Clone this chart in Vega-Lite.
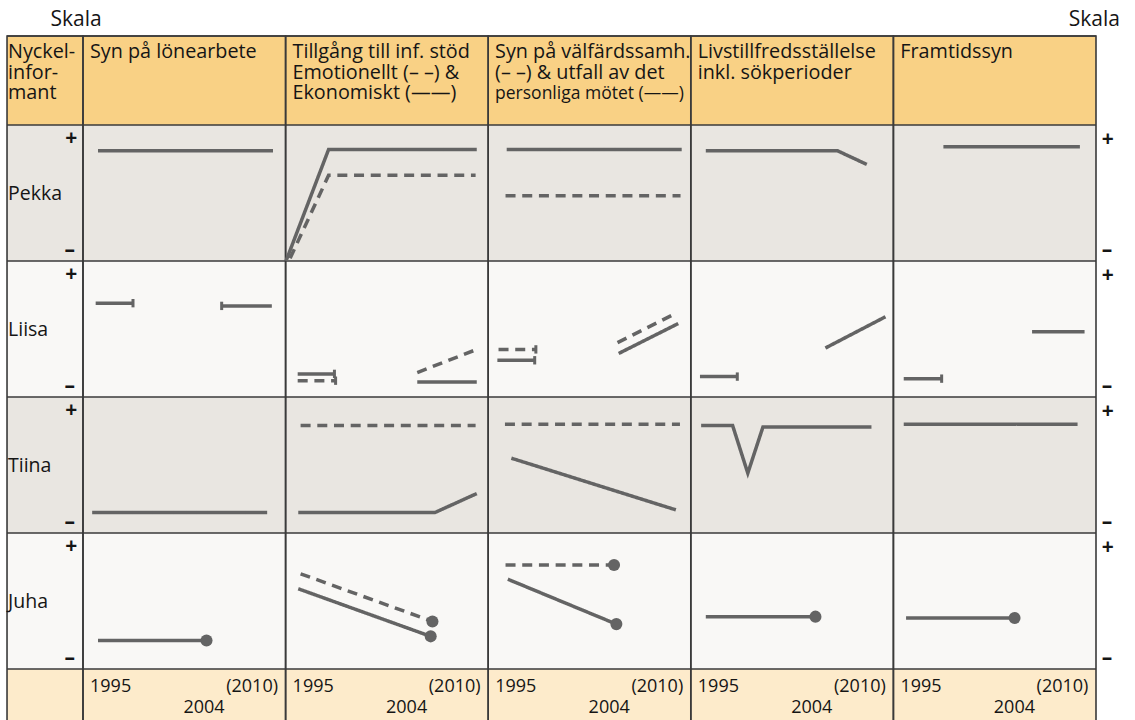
{
  "$schema": "https://vega.github.io/schema/vega-lite/v6.json",
  "width": 1135,
  "height": 720,
  "padding": 0,
  "autosize": {"type": "none"},
  "background": "white",
  "config": {"view": {"stroke": null}, "font": "Open Sans", "text": {"font": "Open Sans", "color": "#151515"}},
  "datasets": {
    "rader": [
      {"rad": "rubrik"}, {"rad": "Pekka"}, {"rad": "Liisa"}, {"rad": "Tiina"}, {"rad": "Juha"}, {"rad": "fot"}
    ],
    "kolumner": [
      {"kol": "namn"}, {"kol": "lönearbete"}, {"kol": "stöd"}, {"kol": "välfärd"}, {"kol": "livstillfredsställelse"}, {"kol": "framtid"}
    ],
    "rubriker": [
      {"kol": "namn", "nr": 1, "text": "Nyckel-"},
      {"kol": "namn", "nr": 2, "text": "infor-"},
      {"kol": "namn", "nr": 3, "text": "mant"},
      {"kol": "lönearbete", "nr": 1, "text": "Syn på lönearbete"},
      {"kol": "stöd", "nr": 1, "text": "Tillgång till inf. stöd"},
      {"kol": "stöd", "nr": 2, "text": "Emotionellt (– –) &"},
      {"kol": "stöd", "nr": 3, "text": "Ekonomiskt (——)"},
      {"kol": "välfärd", "nr": 1, "text": "Syn på välfärdssamh."},
      {"kol": "välfärd", "nr": 2, "text": "(– –) & utfall av det"},
      {"kol": "välfärd", "nr": 3, "text": "personliga mötet (——)"},
      {"kol": "livstillfredsställelse", "nr": 1, "text": "Livstillfredsställelse"},
      {"kol": "livstillfredsställelse", "nr": 2, "text": "inkl. sökperioder"},
      {"kol": "framtid", "nr": 1, "text": "Framtidssyn"}
    ],
    "fot": [
      {"a": "lönearbete", "år": 1995, "etikett": "1995"}, {"a": "lönearbete", "år": 2010, "etikett": "(2010)"}, {"a": "lönearbete", "år": 2004, "etikett": "2004"},
      {"a": "stöd", "år": 1995, "etikett": "1995"}, {"a": "stöd", "år": 2010, "etikett": "(2010)"}, {"a": "stöd", "år": 2004, "etikett": "2004"},
      {"a": "välfärd", "år": 1995, "etikett": "1995"}, {"a": "välfärd", "år": 2010, "etikett": "(2010)"}, {"a": "välfärd", "år": 2004, "etikett": "2004"},
      {"a": "livstillfredsställelse", "år": 1995, "etikett": "1995"}, {"a": "livstillfredsställelse", "år": 2010, "etikett": "(2010)"}, {"a": "livstillfredsställelse", "år": 2004, "etikett": "2004"},
      {"a": "framtid", "år": 1995, "etikett": "1995"}, {"a": "framtid", "år": 2010, "etikett": "(2010)"}, {"a": "framtid", "år": 2004, "etikett": "2004"}
    ],
    "linjer": [
      {"p": "Pekka", "a": "lönearbete", "m": "nivå", "s": 1, "år": 1995, "v": 0.81},
      {"p": "Pekka", "a": "lönearbete", "m": "nivå", "s": 1, "år": 2010, "v": 0.81},
      {"p": "Pekka", "a": "stöd", "m": "ekonomiskt", "s": 1, "år": 1993.75, "v": 0.0},
      {"p": "Pekka", "a": "stöd", "m": "ekonomiskt", "s": 1, "år": 1997.4, "v": 0.82},
      {"p": "Pekka", "a": "stöd", "m": "ekonomiskt", "s": 1, "år": 2010.1, "v": 0.82},
      {"p": "Pekka", "a": "stöd", "m": "emotionellt", "s": 1, "år": 1994.1, "v": 0.02},
      {"p": "Pekka", "a": "stöd", "m": "emotionellt", "s": 1, "år": 1997.4, "v": 0.63},
      {"p": "Pekka", "a": "stöd", "m": "emotionellt", "s": 1, "år": 2010, "v": 0.63},
      {"p": "Pekka", "a": "välfärd", "m": "utfall", "s": 1, "år": 1995.3, "v": 0.82},
      {"p": "Pekka", "a": "välfärd", "m": "utfall", "s": 1, "år": 2010.3, "v": 0.82},
      {"p": "Pekka", "a": "välfärd", "m": "välfärdssyn", "s": 1, "år": 1995.2, "v": 0.48},
      {"p": "Pekka", "a": "välfärd", "m": "välfärdssyn", "s": 1, "år": 2010.2, "v": 0.48},
      {"p": "Pekka", "a": "livstillfredsställelse", "m": "nivå", "s": 1, "år": 1995, "v": 0.81},
      {"p": "Pekka", "a": "livstillfredsställelse", "m": "nivå", "s": 1, "år": 2006.3, "v": 0.81},
      {"p": "Pekka", "a": "livstillfredsställelse", "m": "nivå", "s": 1, "år": 2008.8, "v": 0.71},
      {"p": "Pekka", "a": "framtid", "m": "nivå", "s": 1, "år": 1998, "v": 0.84},
      {"p": "Pekka", "a": "framtid", "m": "nivå", "s": 1, "år": 2009.7, "v": 0.84},

      {"p": "Liisa", "a": "lönearbete", "m": "nivå", "s": 1, "år": 1994.8, "v": 0.69},
      {"p": "Liisa", "a": "lönearbete", "m": "nivå", "s": 1, "år": 1998, "v": 0.69, "slut": "streck"},
      {"p": "Liisa", "a": "lönearbete", "m": "nivå", "s": 2, "år": 2005.6, "v": 0.67, "slut": "streck"},
      {"p": "Liisa", "a": "lönearbete", "m": "nivå", "s": 2, "år": 2009.9, "v": 0.67},
      {"p": "Liisa", "a": "stöd", "m": "ekonomiskt", "s": 1, "år": 1994.75, "v": 0.17},
      {"p": "Liisa", "a": "stöd", "m": "ekonomiskt", "s": 1, "år": 1997.9, "v": 0.17, "slut": "streck"},
      {"p": "Liisa", "a": "stöd", "m": "ekonomiskt", "s": 2, "år": 2005, "v": 0.11},
      {"p": "Liisa", "a": "stöd", "m": "ekonomiskt", "s": 2, "år": 2010.1, "v": 0.11},
      {"p": "Liisa", "a": "stöd", "m": "emotionellt", "s": 1, "år": 1994.75, "v": 0.12},
      {"p": "Liisa", "a": "stöd", "m": "emotionellt", "s": 1, "år": 1998, "v": 0.12, "slut": "streck"},
      {"p": "Liisa", "a": "stöd", "m": "emotionellt", "s": 2, "år": 2005, "v": 0.18},
      {"p": "Liisa", "a": "stöd", "m": "emotionellt", "s": 2, "år": 2010.1, "v": 0.35},
      {"p": "Liisa", "a": "välfärd", "m": "välfärdssyn", "s": 1, "år": 1994.6, "v": 0.35},
      {"p": "Liisa", "a": "välfärd", "m": "välfärdssyn", "s": 1, "år": 1997.8, "v": 0.35, "slut": "streck"},
      {"p": "Liisa", "a": "välfärd", "m": "välfärdssyn", "s": 2, "år": 2004.8, "v": 0.40},
      {"p": "Liisa", "a": "välfärd", "m": "välfärdssyn", "s": 2, "år": 2009.9, "v": 0.62},
      {"p": "Liisa", "a": "välfärd", "m": "utfall", "s": 1, "år": 1994.5, "v": 0.27},
      {"p": "Liisa", "a": "välfärd", "m": "utfall", "s": 1, "år": 1997.7, "v": 0.27, "slut": "streck"},
      {"p": "Liisa", "a": "välfärd", "m": "utfall", "s": 2, "år": 2004.9, "v": 0.32},
      {"p": "Liisa", "a": "välfärd", "m": "utfall", "s": 2, "år": 2010, "v": 0.54},
      {"p": "Liisa", "a": "livstillfredsställelse", "m": "nivå", "s": 1, "år": 1994.5, "v": 0.15},
      {"p": "Liisa", "a": "livstillfredsställelse", "m": "nivå", "s": 1, "år": 1997.7, "v": 0.15, "slut": "streck"},
      {"p": "Liisa", "a": "livstillfredsställelse", "m": "nivå", "s": 2, "år": 2005.25, "v": 0.36},
      {"p": "Liisa", "a": "livstillfredsställelse", "m": "nivå", "s": 2, "år": 2010.4, "v": 0.59},
      {"p": "Liisa", "a": "framtid", "m": "nivå", "s": 1, "år": 1994.6, "v": 0.135},
      {"p": "Liisa", "a": "framtid", "m": "nivå", "s": 1, "år": 1997.85, "v": 0.135, "slut": "streck"},
      {"p": "Liisa", "a": "framtid", "m": "nivå", "s": 2, "år": 2005.6, "v": 0.48},
      {"p": "Liisa", "a": "framtid", "m": "nivå", "s": 2, "år": 2010.1, "v": 0.48},

      {"p": "Tiina", "a": "lönearbete", "m": "nivå", "s": 1, "år": 1994.5, "v": 0.15},
      {"p": "Tiina", "a": "lönearbete", "m": "nivå", "s": 1, "år": 2009.5, "v": 0.15},
      {"p": "Tiina", "a": "stöd", "m": "emotionellt", "s": 1, "år": 1995, "v": 0.79},
      {"p": "Tiina", "a": "stöd", "m": "emotionellt", "s": 1, "år": 2010, "v": 0.79},
      {"p": "Tiina", "a": "stöd", "m": "ekonomiskt", "s": 1, "år": 1994.8, "v": 0.15},
      {"p": "Tiina", "a": "stöd", "m": "ekonomiskt", "s": 1, "år": 2006.5, "v": 0.15},
      {"p": "Tiina", "a": "stöd", "m": "ekonomiskt", "s": 1, "år": 2010.1, "v": 0.29},
      {"p": "Tiina", "a": "välfärd", "m": "välfärdssyn", "s": 1, "år": 1995.15, "v": 0.80},
      {"p": "Tiina", "a": "välfärd", "m": "välfärdssyn", "s": 1, "år": 2010.15, "v": 0.80},
      {"p": "Tiina", "a": "välfärd", "m": "utfall", "s": 1, "år": 1995.7, "v": 0.55},
      {"p": "Tiina", "a": "välfärd", "m": "utfall", "s": 1, "år": 2009.8, "v": 0.17},
      {"p": "Tiina", "a": "livstillfredsställelse", "m": "nivå", "s": 1, "år": 1994.6, "v": 0.79},
      {"p": "Tiina", "a": "livstillfredsställelse", "m": "nivå", "s": 1, "år": 1997.3, "v": 0.79},
      {"p": "Tiina", "a": "livstillfredsställelse", "m": "nivå", "s": 1, "år": 1998.6, "v": 0.44},
      {"p": "Tiina", "a": "livstillfredsställelse", "m": "nivå", "s": 1, "år": 1999.9, "v": 0.78},
      {"p": "Tiina", "a": "livstillfredsställelse", "m": "nivå", "s": 1, "år": 2009.2, "v": 0.78},
      {"p": "Tiina", "a": "framtid", "m": "nivå", "s": 1, "år": 1994.6, "v": 0.80},
      {"p": "Tiina", "a": "framtid", "m": "nivå", "s": 1, "år": 2009.5, "v": 0.80},

      {"p": "Juha", "a": "lönearbete", "m": "nivå", "s": 1, "år": 1995, "v": 0.21},
      {"p": "Juha", "a": "lönearbete", "m": "nivå", "s": 1, "år": 2004.3, "v": 0.21, "slut": "punkt"},
      {"p": "Juha", "a": "stöd", "m": "emotionellt", "s": 1, "år": 1995, "v": 0.70},
      {"p": "Juha", "a": "stöd", "m": "emotionellt", "s": 1, "år": 2006.3, "v": 0.35, "slut": "punkt"},
      {"p": "Juha", "a": "stöd", "m": "ekonomiskt", "s": 1, "år": 1994.8, "v": 0.59},
      {"p": "Juha", "a": "stöd", "m": "ekonomiskt", "s": 1, "år": 2006.15, "v": 0.24, "slut": "punkt"},
      {"p": "Juha", "a": "välfärd", "m": "välfärdssyn", "s": 1, "år": 1995.2, "v": 0.765},
      {"p": "Juha", "a": "välfärd", "m": "välfärdssyn", "s": 1, "år": 2004.5, "v": 0.765, "slut": "punkt"},
      {"p": "Juha", "a": "välfärd", "m": "utfall", "s": 1, "år": 1995.4, "v": 0.66},
      {"p": "Juha", "a": "välfärd", "m": "utfall", "s": 1, "år": 2004.7, "v": 0.33, "slut": "punkt"},
      {"p": "Juha", "a": "livstillfredsställelse", "m": "nivå", "s": 1, "år": 1995, "v": 0.385},
      {"p": "Juha", "a": "livstillfredsställelse", "m": "nivå", "s": 1, "år": 2004.4, "v": 0.385, "slut": "punkt"},
      {"p": "Juha", "a": "framtid", "m": "nivå", "s": 1, "år": 1994.8, "v": 0.375},
      {"p": "Juha", "a": "framtid", "m": "nivå", "s": 1, "år": 2004.1, "v": 0.375, "slut": "punkt"}
    ]
  },
  "encoding": {
    "x": {"field": "gx", "type": "quantitative", "scale": {"domain": [-0.40967, 5.1925], "nice": false, "zero": false}, "axis": null},
    "y": {"field": "gy", "type": "quantitative", "scale": {"domain": [-0.91912, 4.375], "nice": false, "zero": false, "reverse": true}, "axis": null}
  },
  "layer": [
    {
      "data": {"name": "rader"},
      "transform": [
        {"calculate": "indexof(['rubrik','Pekka','Liisa','Tiina','Juha','fot'], datum.rad) - 1", "as": "ri"},
        {"calculate": "datum.ri < 0 ? -0.6544 : datum.ri", "as": "gy"},
        {"calculate": "datum.ri < 0 ? 0 : (datum.ri > 3 ? 4.4 : datum.ri + 1)", "as": "gy2"},
        {"calculate": "-0.375", "as": "gx"},
        {"calculate": "5", "as": "gx2"}
      ],
      "mark": {"type": "rect"},
      "encoding": {
        "x2": {"field": "gx2"},
        "y2": {"field": "gy2"},
        "fill": {"field": "rad", "type": "nominal", "legend": null,
          "scale": {"domain": ["rubrik", "Pekka", "Liisa", "Tiina", "Juha", "fot"],
                    "range": ["#f9d185", "#e9e6e1", "#f9f8f6", "#e9e6e1", "#f9f8f6", "#fdebcb"]}}
      }
    },
    {
      "data": {"name": "rader"},
      "transform": [
        {"calculate": "indexof(['rubrik','Pekka','Liisa','Tiina','Juha','fot'], datum.rad) - 1", "as": "ri"},
        {"calculate": "datum.ri < 0 ? -0.6544 : datum.ri", "as": "gy"},
        {"calculate": "-0.375", "as": "gx"},
        {"calculate": "5", "as": "gx2"}
      ],
      "mark": {"type": "rule", "color": "#3a3a3a", "strokeWidth": 1.6},
      "encoding": {"x2": {"field": "gx2"}}
    },
    {
      "data": {"name": "kolumner"},
      "transform": [
        {"calculate": "indexof(['namn','lönearbete','stöd','välfärd','livstillfredsställelse','framtid'], datum.kol)", "as": "ci"},
        {"calculate": "datum.ci == 0 ? -0.375 : datum.ci - 1", "as": "gx"},
        {"calculate": "datum.ci == 0 ? 0 : datum.ci", "as": "gx2"},
        {"calculate": "-0.6544", "as": "gy"},
        {"calculate": "4.45", "as": "gy2"}
      ],
      "mark": {"type": "rect", "fillOpacity": 0, "stroke": "#3a3a3a", "strokeWidth": 1.6},
      "encoding": {"x2": {"field": "gx2"}, "y2": {"field": "gy2"}}
    },
    {
      "data": {"name": "rubriker"},
      "transform": [
        {"filter": "!(datum.kol == 'välfärd' && datum.nr == 3)"},
        {"calculate": "indexof(['namn','lönearbete','stöd','välfärd','livstillfredsställelse','framtid'], datum.kol)", "as": "ci"},
        {"calculate": "datum.ci == 0 ? -0.37 : datum.ci - 0.966", "as": "gx"},
        {"calculate": "-0.4904 + (datum.nr - 1) * 0.15", "as": "gy"}
      ],
      "mark": {"type": "text", "align": "left", "baseline": "alphabetic", "fontSize": 19.8},
      "encoding": {"text": {"field": "text"}}
    },
    {
      "data": {"name": "rubriker"},
      "transform": [
        {"filter": "datum.kol == 'välfärd' && datum.nr == 3"},
        {"calculate": "indexof(['namn','lönearbete','stöd','välfärd','livstillfredsställelse','framtid'], datum.kol)", "as": "ci"},
        {"calculate": "datum.ci - 0.966", "as": "gx"},
        {"calculate": "-0.4904 + (datum.nr - 1) * 0.15", "as": "gy"}
      ],
      "mark": {"type": "text", "align": "left", "baseline": "alphabetic", "fontSize": 17.5},
      "encoding": {"text": {"field": "text"}}
    },
    {
      "data": {"name": "fot"},
      "transform": [
        {"filter": "datum['år'] == 1995"},
        {"calculate": "indexof(['lönearbete','stöd','välfärd','livstillfredsställelse','framtid'], datum.a) + (15 + (datum['år'] - 1995) * 175 / 15) / 202.6", "as": "gx"},
        {"calculate": "4.167", "as": "gy"}
      ],
      "mark": {"type": "text", "align": "left", "baseline": "alphabetic", "fontSize": 18, "dx": -8},
      "encoding": {"text": {"field": "etikett"}}
    },
    {
      "data": {"name": "fot"},
      "transform": [
        {"filter": "datum['år'] == 2010"},
        {"calculate": "indexof(['lönearbete','stöd','välfärd','livstillfredsställelse','framtid'], datum.a) + (15 + (datum['år'] - 1995) * 175 / 15) / 202.6", "as": "gx"},
        {"calculate": "4.167", "as": "gy"}
      ],
      "mark": {"type": "text", "align": "right", "baseline": "alphabetic", "fontSize": 18, "dx": 5},
      "encoding": {"text": {"field": "etikett"}}
    },
    {
      "data": {"name": "fot"},
      "transform": [
        {"filter": "datum['år'] == 2004"},
        {"calculate": "indexof(['lönearbete','stöd','välfärd','livstillfredsställelse','framtid'], datum.a) + (15 + (datum['år'] - 1995) * 175 / 15) / 202.6", "as": "gx"},
        {"calculate": "4.326", "as": "gy"}
      ],
      "mark": {"type": "text", "align": "center", "baseline": "alphabetic", "fontSize": 18, "dx": 1},
      "encoding": {"text": {"field": "etikett"}}
    },
    {
      "data": {"name": "rader"},
      "transform": [
        {"filter": "indexof(['Pekka','Liisa','Tiina','Juha'], datum.rad) >= 0"},
        {"calculate": "indexof(['Pekka','Liisa','Tiina','Juha'], datum.rad)", "as": "ri"},
        {"calculate": "-0.37", "as": "gx"},
        {"calculate": "datum.ri + 0.51", "as": "gy"}
      ],
      "mark": {"type": "text", "align": "left", "baseline": "middle", "fontSize": 19.5},
      "encoding": {"text": {"field": "rad"}}
    },
    {
      "data": {"name": "rader"},
      "transform": [
        {"filter": "indexof(['Pekka','Liisa','Tiina','Juha'], datum.rad) >= 0"},
        {"calculate": "indexof(['Pekka','Liisa','Tiina','Juha'], datum.rad)", "as": "ri"},
        {"calculate": "-0.058", "as": "gx"},
        {"calculate": "datum.ri + 0.105", "as": "gy"}
      ],
      "mark": {"type": "text", "align": "center", "baseline": "middle", "fontSize": 21, "fontWeight": "bold"},
      "encoding": {"text": {"value": "+"}}
    },
    {
      "data": {"name": "rader"},
      "transform": [
        {"filter": "indexof(['Pekka','Liisa','Tiina','Juha'], datum.rad) >= 0"},
        {"calculate": "indexof(['Pekka','Liisa','Tiina','Juha'], datum.rad)", "as": "ri"},
        {"calculate": "-0.065", "as": "gx"},
        {"calculate": "datum.ri + 0.925", "as": "gy"}
      ],
      "mark": {"type": "text", "align": "center", "baseline": "middle", "fontSize": 21, "fontWeight": "bold"},
      "encoding": {"text": {"value": "–"}}
    },
    {
      "data": {"name": "rader"},
      "transform": [
        {"filter": "indexof(['Pekka','Liisa','Tiina','Juha'], datum.rad) >= 0"},
        {"calculate": "indexof(['Pekka','Liisa','Tiina','Juha'], datum.rad)", "as": "ri"},
        {"calculate": "5.0575", "as": "gx"},
        {"calculate": "datum.ri + 0.11", "as": "gy"}
      ],
      "mark": {"type": "text", "align": "center", "baseline": "middle", "fontSize": 21, "fontWeight": "bold"},
      "encoding": {"text": {"value": "+"}}
    },
    {
      "data": {"name": "rader"},
      "transform": [
        {"filter": "indexof(['Pekka','Liisa','Tiina','Juha'], datum.rad) >= 0"},
        {"calculate": "indexof(['Pekka','Liisa','Tiina','Juha'], datum.rad)", "as": "ri"},
        {"calculate": "5.0545", "as": "gx"},
        {"calculate": "datum.ri + 0.925", "as": "gy"}
      ],
      "mark": {"type": "text", "align": "center", "baseline": "middle", "fontSize": 21, "fontWeight": "bold"},
      "encoding": {"text": {"value": "–"}}
    },
    {
      "data": {"values": [{"etikett": "Skala"}]},
      "transform": [
        {"calculate": "-0.0345", "as": "gx"},
        {"calculate": "-0.728", "as": "gy"}
      ],
      "mark": {"type": "text", "align": "center", "baseline": "alphabetic", "fontSize": 21},
      "encoding": {"text": {"field": "etikett"}}
    },
    {
      "data": {"values": [{"etikett": "Skala"}]},
      "transform": [
        {"calculate": "5.118", "as": "gx"},
        {"calculate": "-0.728", "as": "gy"}
      ],
      "mark": {"type": "text", "align": "right", "baseline": "alphabetic", "fontSize": 21},
      "encoding": {"text": {"field": "etikett"}}
    },
    {
      "data": {"name": "linjer"},
      "transform": [
        {"calculate": "indexof(['lönearbete','stöd','välfärd','livstillfredsställelse','framtid'], datum.a) + (15 + (datum['år'] - 1995) * 175 / 15) / 202.6", "as": "gx"},
        {"calculate": "indexof(['Pekka','Liisa','Tiina','Juha'], datum.p) + 1 - datum.v", "as": "gy"}
      ],
      "mark": {"type": "line", "color": "#646464", "strokeWidth": 3.5},
      "encoding": {
        "detail": [{"field": "p"}, {"field": "a"}, {"field": "s"}],
        "strokeDash": {"field": "m", "type": "nominal", "legend": null,
          "scale": {"domain": ["emotionellt", "välfärdssyn", "ekonomiskt", "utfall", "nivå"],
                    "range": [[10, 6.7], [10, 6.7], [1, 0], [1, 0], [1, 0]]}},
        "order": {"field": "år", "type": "quantitative"}
      }
    },
    {
      "data": {"name": "linjer"},
      "transform": [
        {"filter": "datum.slut == 'streck'"},
        {"calculate": "indexof(['lönearbete','stöd','välfärd','livstillfredsställelse','framtid'], datum.a) + (15 + (datum['år'] - 1995) * 175 / 15) / 202.6", "as": "gx"},
        {"calculate": "indexof(['Pekka','Liisa','Tiina','Juha'], datum.p) + 1 - datum.v", "as": "gy"}
      ],
      "mark": {"type": "point", "shape": "M0,-1L0,1", "filled": false, "stroke": "#646464", "strokeWidth": 3, "size": 70, "opacity": 1}
    },
    {
      "data": {"name": "linjer"},
      "transform": [
        {"filter": "datum.slut == 'punkt'"},
        {"calculate": "indexof(['lönearbete','stöd','välfärd','livstillfredsställelse','framtid'], datum.a) + (15 + (datum['år'] - 1995) * 175 / 15) / 202.6", "as": "gx"},
        {"calculate": "indexof(['Pekka','Liisa','Tiina','Juha'], datum.p) + 1 - datum.v", "as": "gy"}
      ],
      "mark": {"type": "circle", "color": "#646464", "size": 145, "opacity": 1}
    }
  ]
}
